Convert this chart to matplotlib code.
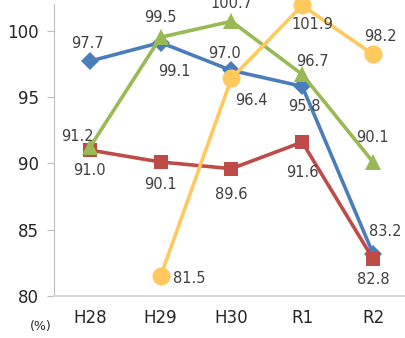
import matplotlib
matplotlib.use("Agg")
import matplotlib.pyplot as plt
import numpy as np

plt.rcParams["font.family"] = ["DejaVu Sans"]

categories = ["H28", "H29", "H30", "R1", "R2"]
blue_vals = [97.7, 99.1, 97.0, 95.8, 83.2]
red_vals = [91.0, 90.1, 89.6, 91.6, 82.8]
green_vals = [91.2, 99.5, 100.7, 96.7, 90.1]
yellow_vals = [np.nan, 81.5, 96.4, 101.9, 98.2]
y_ticks = [80, 85, 90, 95, 100]

# label offsets in pixels (dx, dy)
blue_off = [(-2, 18), (14, -29), (-7, 17), (2, -20), (12, 22)]
red_off = [(0, -20), (0, -22), (0, -26), (0, -30), (0, -21)]
green_off = [(-12, 11), (0, 20), (0, 18), (10, 13), (-1, 25)]
yellow_off = [None, (29, -2), (20, -22), (10, -19), (7, 18)]

series = [
    (blue_vals, blue_off, "#4A7EBB", "D", 9),
    (red_vals, red_off, "#BE4B48", "s", 10),
    (green_vals, green_off, "#98B954", "^", 11),
    (yellow_vals, yellow_off, "#FFC95E", "o", 13),
]

fig = plt.figure(figsize=(4.06, 3.38), dpi=100)
ax = fig.add_axes([0.134, 0.124, 0.872, 0.864])
x = np.arange(len(categories))

for vals, offs, color, marker, ms in series:
    ax.plot(x, vals, color=color, lw=2.6, marker=marker, markersize=ms,
            markeredgewidth=0, clip_on=False)
    for xi, v, off in zip(x, vals, offs):
        if off is None or np.isnan(v):
            continue
        ax.annotate(f"{v:.1f}", (xi, v), xytext=off, textcoords="offset pixels",
                    ha="center", va="center", fontsize=10.5, color="#404040")

ax.set_xlim(-0.5, 4.5)
ax.set_ylim(80, 102)
ax.set_xticks(x)
ax.set_xticklabels(categories)
ax.set_yticks(y_ticks)
for side in ["top", "right"]:
    ax.spines[side].set_visible(False)
ax.spines["left"].set_color("#BFBFBF")
ax.spines["bottom"].set_color("#D9D9D9")
ax.spines["bottom"].set_linewidth(1.5)
ax.tick_params(axis="y", length=5, color="#BFBFBF", labelsize=12, labelcolor="#262626", pad=6)
ax.tick_params(axis="x", length=0, labelsize=12, labelcolor="#262626", pad=9)
fig.text(0.10, 0.035, "(%)", ha="center", va="center", fontsize=9, color="#262626")

fig.savefig("out.png", dpi=100)
